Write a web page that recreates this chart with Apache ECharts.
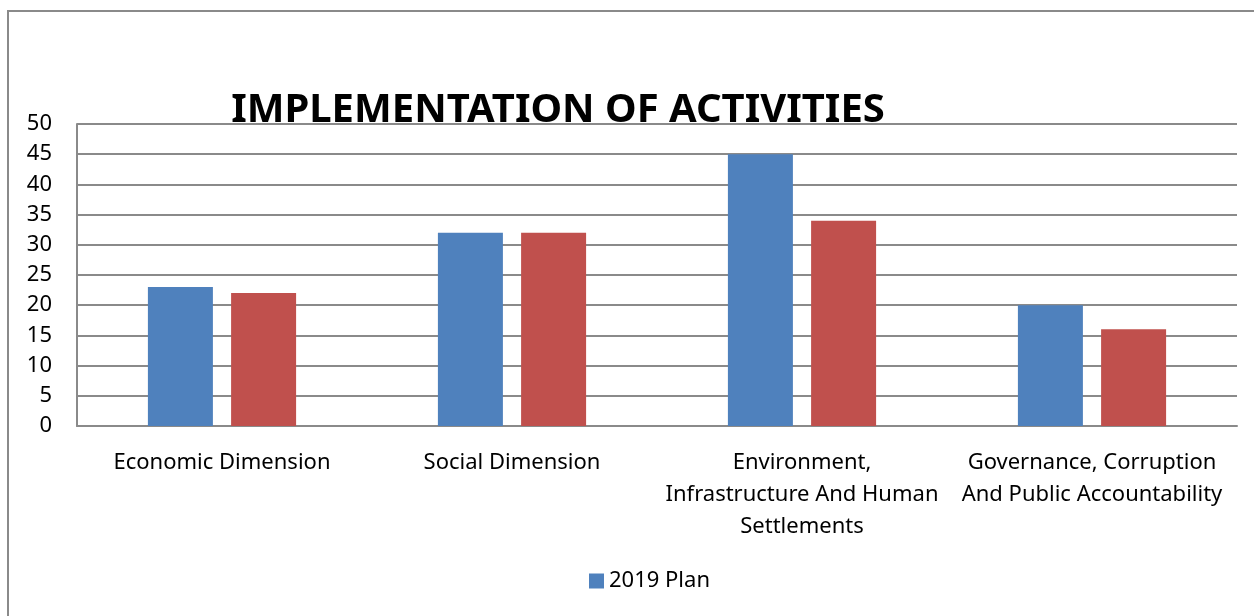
<!DOCTYPE html>
<html>
<head>
<meta charset="utf-8">
<script src="https://cdn.jsdelivr.net/npm/echarts@6/dist/echarts.min.js"></script>
<style>
  html, body { margin: 0; padding: 0; background: #fff; }
  #chart { width: 1254px; height: 616px; }
</style>
</head>
<body>
<div id="chart"></div>
<script>
// 数据
const categories = [
  'Economic Dimension',
  'Social Dimension',
  'Environment,\nInfrastructure And Human\nSettlements',
  'Governance, Corruption\nAnd Public Accountability'
]
const planValues = [23, 32, 45, 20]
const doneValues = [22, 32, 34, 16]
const yTicks = { min: 0, max: 50, interval: 5 }

const font = 'Noto Sans'
const gridColor = '#8a8a8a'

const cs = echarts.init(document.getElementById('chart'))
const option = {
  animation: false,
  title: {
    text: 'IMPLEMENTATION OF ACTIVITIES',
    left: 553,
    textAlign: 'center',
    top: 86,
    textStyle: { fontFamily: font, fontWeight: 'bold', fontSize: 40, color: '#000' }
  },
  // 外框
  graphic: [{
    type: 'rect',
    shape: { x: 8, y: 11, width: 1260, height: 620 },
    style: { fill: 'none', stroke: gridColor, lineWidth: 2 },
    z: -1
  }],
  grid: { left: 77, right: 17, top: 124, bottom: 190 },
  legend: {
    data: ['2019 Plan'],
    left: 584,
    top: 565,
    itemWidth: 15,
    itemHeight: 15,
    itemGap: 6,
    textStyle: { fontFamily: font, fontSize: 22, color: '#000' },
    icon: 'rect'
  },
  xAxis: {
    type: 'category',
    data: categories,
    axisLine: { lineStyle: { color: gridColor, width: 2 } },
    axisTick: { show: false },
    axisLabel: {
      interval: 0,
      margin: 21,
      fontFamily: font,
      fontSize: 22,
      lineHeight: 32,
      color: '#000'
    }
  },
  yAxis: {
    type: 'value',
    min: yTicks.min,
    max: yTicks.max,
    interval: yTicks.interval,
    axisLine: { show: true, lineStyle: { color: gridColor, width: 2 } },
    axisTick: { show: false },
    splitLine: { lineStyle: { color: gridColor, width: 2 } },
    axisLabel: { margin: 25, fontFamily: font, fontSize: 22, color: '#000' }
  },
  series: [
    {
      type: 'bar',
      name: '2019 Plan',
      data: planValues,
      barWidth: 65,
      barGap: '28%',
      itemStyle: { color: '#4F81BD' }
    },
    {
      type: 'bar',
      name: '2019 Implemented',
      data: doneValues,
      barWidth: 65,
      itemStyle: { color: '#C0504D' }
    }
  ]
}
cs.setOption(option)
</script>
</body>
</html>
